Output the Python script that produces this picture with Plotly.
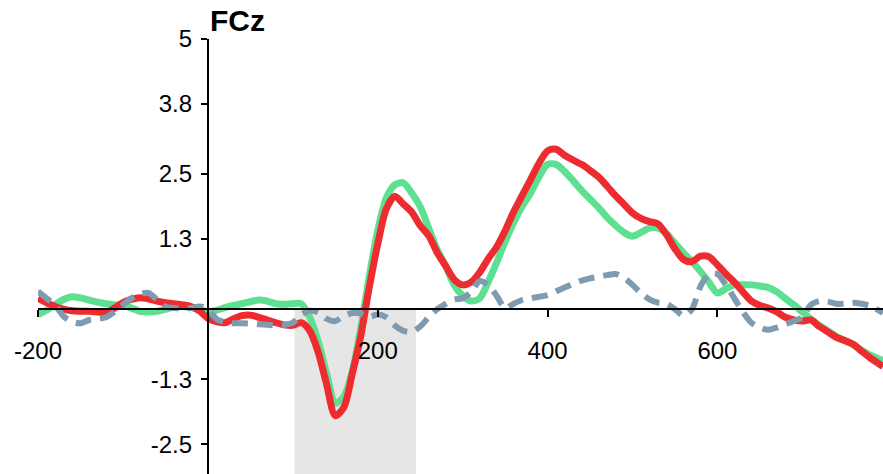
import plotly.graph_objects as go

times = [-200, -190, -180, -170, -160, -150, -140, -130, -120, -110, -100, -90, -80, -70, -60, -50, -40, -30, -20, -10,
         0, 10, 20, 30, 40, 50, 60, 70, 80, 90, 100, 110, 120, 130, 140, 150, 160, 170, 180, 190,
         200, 210, 220, 230, 240, 250, 260, 270, 280, 290, 300, 310, 320, 330, 340, 350, 360, 370, 380, 390,
         400, 410, 420, 430, 440, 450, 460, 470, 480, 490, 500, 510, 520, 530, 540, 550, 560, 570, 580, 590,
         600, 610, 620, 630, 640, 650, 660, 670, 680, 690, 700, 710, 720, 730, 740, 750, 760, 770, 780, 795]

green = [-0.10, -0.02, 0.08, 0.18, 0.23, 0.21, 0.17, 0.13, 0.10, 0.08, 0.07, 0.02, -0.04, -0.05, -0.04, 0.00, 0.04, 0.05, 0.03, 0.00,
         -0.05, -0.02, 0.03, 0.07, 0.10, 0.14, 0.17, 0.15, 0.10, 0.09, 0.10, 0.10, -0.15, -0.60, -1.20, -1.74, -1.62, -1.15, -0.35, 0.60,
         1.45, 2.05, 2.30, 2.34, 2.15, 1.90, 1.50, 1.10, 0.80, 0.45, 0.25, 0.15, 0.20, 0.50, 0.86, 1.25, 1.60, 1.90, 2.15, 2.45,
         2.68, 2.68, 2.55, 2.38, 2.20, 2.04, 1.88, 1.70, 1.55, 1.42, 1.35, 1.42, 1.50, 1.50, 1.40, 1.22, 1.04, 0.88, 0.70, 0.50,
         0.30, 0.38, 0.45, 0.45, 0.45, 0.43, 0.40, 0.32, 0.20, 0.08, -0.05, -0.18, -0.30, -0.40, -0.50, -0.58, -0.66, -0.76, -0.85, -0.95]

red = [0.20, 0.12, 0.05, 0.00, -0.03, -0.04, -0.04, -0.05, -0.06, 0.02, 0.12, 0.18, 0.21, 0.19, 0.15, 0.12, 0.10, 0.08, 0.05, -0.03,
       -0.17, -0.23, -0.25, -0.18, -0.12, -0.11, -0.15, -0.20, -0.25, -0.29, -0.30, -0.25, -0.40, -0.80, -1.40, -1.97, -1.82, -1.20, -0.50, 0.40,
       1.20, 1.85, 2.09, 1.95, 1.80, 1.55, 1.36, 1.05, 0.80, 0.55, 0.45, 0.50, 0.68, 0.93, 1.15, 1.45, 1.80, 2.10, 2.40, 2.70,
       2.93, 2.96, 2.85, 2.76, 2.68, 2.57, 2.45, 2.28, 2.10, 1.94, 1.78, 1.68, 1.62, 1.58, 1.38, 1.12, 0.92, 0.88, 0.98, 0.97,
       0.82, 0.65, 0.50, 0.32, 0.15, 0.07, 0.02, -0.05, -0.15, -0.20, -0.22, -0.20, -0.32, -0.42, -0.52, -0.58, -0.65, -0.78, -0.90, -1.06]

gray = [0.33, 0.20, 0.08, -0.13, -0.23, -0.26, -0.20, -0.18, -0.15, -0.05, 0.08, 0.20, 0.28, 0.30, 0.18, 0.05, 0.02, 0.02, 0.02, 0.05,
        0.00, -0.18, -0.24, -0.26, -0.26, -0.27, -0.28, -0.29, -0.30, -0.29, -0.25, -0.10, -0.03, -0.06, -0.18, -0.22, -0.13, -0.07, -0.08, -0.14,
        -0.10, -0.15, -0.30, -0.40, -0.42, -0.32, -0.15, 0.00, 0.10, 0.18, 0.20, 0.32, 0.52, 0.45, 0.25, 0.02, 0.10, 0.17, 0.20, 0.23,
        0.26, 0.33, 0.40, 0.47, 0.53, 0.57, 0.60, 0.63, 0.65, 0.58, 0.45, 0.30, 0.18, 0.12, 0.10, 0.00, -0.12, 0.00, 0.42, 0.65,
        0.65, 0.45, 0.20, -0.05, -0.25, -0.34, -0.38, -0.34, -0.28, -0.22, -0.15, 0.08, 0.15, 0.14, 0.10, 0.10, 0.12, 0.10, 0.06, -0.07]

shade_window = [102, 245]
y_ticks = [5, 3.8, 2.5, 1.3, -1.3, -2.5]
x_ticks = [-200, 200, 400, 600]
x_range = [-200, 795]
y_range = [-3.05, 5.0]

FONT = "Liberation Sans, Arial, sans-serif"

fig = go.Figure()
fig.add_shape(type="rect", xref="x", yref="y", x0=shade_window[0], x1=shade_window[1],
              y0=y_range[0], y1=0, fillcolor="#e6e6e6", line_width=0, layer="below")

fig.add_trace(go.Scatter(x=times, y=green, mode="lines", line=dict(color="#5ee093", width=7, shape="spline", smoothing=0.8),
                         showlegend=False))
fig.add_trace(go.Scatter(x=times, y=red, mode="lines", line=dict(color="#ee2c2f", width=7, shape="spline", smoothing=0.8),
                         showlegend=False))
fig.add_trace(go.Scatter(x=times, y=gray, mode="lines", line=dict(color="#7f9bb0", width=6, dash="16px,9px", shape="spline", smoothing=0.8),
                         showlegend=False))

x0_frac = (0 - x_range[0]) / (x_range[1] - x_range[0])
y0_frac = (0 - y_range[0]) / (y_range[1] - y_range[0])

fig.update_layout(
    width=883, height=474,
    margin=dict(l=38, r=0, t=39, b=0),
    plot_bgcolor="white", paper_bgcolor="white",
    font=dict(family=FONT, size=24, color="black"),
    xaxis=dict(range=x_range, domain=[0, 1], anchor="free", position=y0_frac,
               showgrid=False, zeroline=False, showline=True, linecolor="black", linewidth=2,
               ticks="outside", ticklen=7, tickwidth=2, tickcolor="black",
               tickvals=x_ticks, ticktext=[str(v) for v in x_ticks], ticklabelstandoff=13),
    yaxis=dict(range=y_range, domain=[0, 1], anchor="free", position=x0_frac,
               showgrid=False, zeroline=False, showline=True, linecolor="black", linewidth=2,
               ticks="outside", ticklen=6, tickwidth=2, tickcolor="black",
               tickvals=y_ticks, ticktext=[str(v) for v in y_ticks], ticklabelstandoff=4),
    annotations=[dict(text="<b>FCz</b>", xref="x", x=0, xanchor="left", yref="paper", y=1, yanchor="bottom",
                      yshift=0, showarrow=False, font=dict(family=FONT, size=30, color="black"))],
)

fig.write_html("out.html")
